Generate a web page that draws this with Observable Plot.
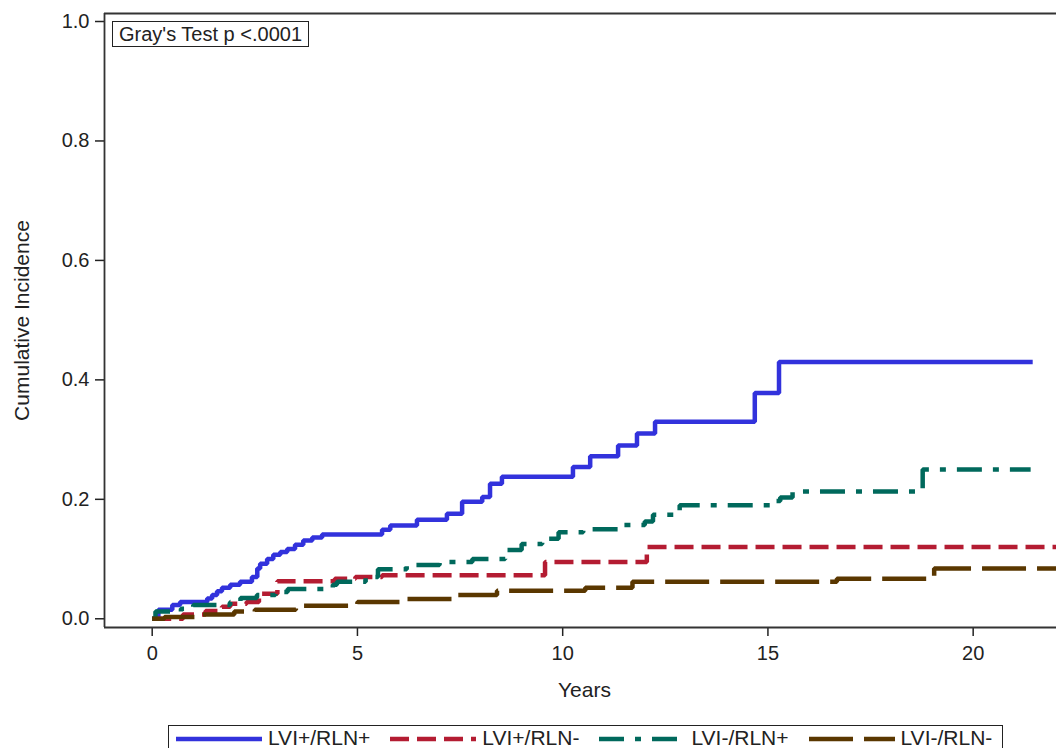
<!DOCTYPE html>
<html>
<head>
<meta charset="utf-8">
<script src="https://cdn.jsdelivr.net/npm/d3@7"></script>
<script src="https://cdn.jsdelivr.net/npm/@observablehq/plot@0.6"></script>
<style>
html, body { margin: 0; padding: 0; background: #fff; overflow: hidden; }
body { width: 1056px; height: 748px; position: relative; font-family: "Liberation Sans", Arial, sans-serif; color: #222; }
#chart { position: absolute; left: 0; top: 0; }
#inset { position: absolute; left: 112px; top: 21px; height: 24px; border: 1.5px solid #222; padding: 0 6px; font-size: 20px; line-height: 24px; background: #fff; white-space: nowrap; }
#legend { position: absolute; left: 168px; top: 725px; width: 835px; height: 40px; border: 1.6px solid #222; background: #fff; display: flex; align-items: flex-start; padding-left: 7px; box-sizing: border-box; }
.item { display: flex; align-items: center; height: 24px; margin-right: 20px; font-size: 21px; white-space: nowrap; }
.item svg { margin-right: 6px; }
</style>
</head>
<body>
<div id="chart"></div>
<div id="inset"></div>
<div id="legend"></div>
<script>
// ---- Data ----
const groups = ["LVI+/RLN+", "LVI+/RLN-", "LVI-/RLN+", "LVI-/RLN-"];
const colors = ["#3232dc", "#b41c32", "#00695c", "#5a3700"];
const dashes = ["none", "19,8", "25,11,6,11", "44,11"];

const lviPosRlnPosYears = [0,0.15,0.49,0.68,1.34,1.46,1.58,1.70,1.90,2.14,2.43,2.56,2.63,2.80,2.95,3.12,3.29,3.48,3.68,3.90,4.14,5.60,5.80,6.45,7.18,7.55,8.04,8.23,8.52,10.25,10.67,11.35,11.81,12.25,14.68,15.27,21.45];
const lviPosRlnPosInc   = [0,0.015,0.023,0.028,0.034,0.040,0.046,0.052,0.057,0.062,0.070,0.084,0.092,0.100,0.107,0.112,0.117,0.124,0.131,0.136,0.141,0.149,0.156,0.166,0.176,0.196,0.204,0.226,0.238,0.254,0.272,0.290,0.310,0.330,0.378,0.430,0.430];

const lviPosRlnNegYears = [0,0.75,1.3,1.7,1.9,2.3,2.6,3.05,4.45,4.95,5.6,9.57,12.05,23];
const lviPosRlnNegInc   = [0,0.007,0.013,0.020,0.025,0.028,0.042,0.063,0.067,0.070,0.073,0.095,0.120,0.120];

const lviNegRlnPosYears = [0,0.08,0.7,1.0,1.9,2.15,2.55,3.0,3.3,4.4,4.5,5.2,5.5,6.2,7.0,7.8,8.6,9.0,9.5,9.9,10.5,11.4,12.0,12.2,12.85,15.05,15.3,15.6,18.77,21.4];
const lviNegRlnPosInc   = [0,0.012,0.017,0.023,0.028,0.035,0.040,0.045,0.050,0.057,0.062,0.070,0.083,0.090,0.095,0.100,0.115,0.125,0.134,0.145,0.150,0.157,0.163,0.174,0.190,0.197,0.203,0.213,0.250,0.250];

const lviNegRlnNegYears = [0,0.3,1.2,2.0,2.5,3.5,5.0,6.2,7.3,8.4,10.55,11.7,16.68,19.05,23];
const lviNegRlnNegInc   = [0,0.003,0.007,0.012,0.015,0.022,0.028,0.033,0.040,0.047,0.052,0.062,0.067,0.084,0.084];

const yearTicks = [0, 5, 10, 15, 20];
const incTicks = [0, 0.2, 0.4, 0.6, 0.8, 1.0];
const xLabel = "Years";
const yLabel = "Cumulative Incidence";
const testText = "Gray's Test p <.0001";

// ---- Build table ----
const seriesYears = [lviPosRlnPosYears, lviPosRlnNegYears, lviNegRlnPosYears, lviNegRlnNegYears];
const seriesInc = [lviPosRlnPosInc, lviPosRlnNegInc, lviNegRlnPosInc, lviNegRlnNegInc];
const series = groups.map((g, i) => seriesYears[i].map((t, j) => ({group: g, t, v: seriesInc[i][j]})));

const xDom = [-1.162, 22.03];
const yDom = [-0.0146, 1.0134];
const frameStyle = {stroke: "#333", strokeWidth: 1.8};

const chart = Plot.plot({
  width: 1056,
  height: 715,
  marginLeft: 104,
  marginRight: 0,
  marginTop: 13,
  marginBottom: 88,
  style: {fontFamily: "'Liberation Sans', Arial, sans-serif", color: "#222", background: "#fff"},
  x: {domain: xDom},
  y: {domain: yDom},
  marks: [
    Plot.axisY({ticks: incTicks, tickFormat: d3.format(".1f"), tickSize: 9, tickPadding: 6, fontSize: 20, label: null, strokeWidth: 1.5}),
    Plot.axisX({ticks: yearTicks, tickSize: 9, tickPadding: 9, fontSize: 20, label: null, strokeWidth: 1.5}),
    ...series.map((d, i) => Plot.line(d, {
      x: "t", y: "v", curve: "step-after", clip: true,
      stroke: colors[i], strokeWidth: 4.5,
      strokeDasharray: dashes[i] === "none" ? undefined : dashes[i],
      strokeLinecap: "butt", strokeLinejoin: "miter"
    })),
    Plot.ruleY([yDom[1]], frameStyle),
    Plot.ruleY([yDom[0]], frameStyle),
    Plot.ruleX([xDom[0]], frameStyle),
    Plot.text([xLabel], {frameAnchor: "bottom", dy: 69, dx: 4, fontSize: 21, fill: "#222"}),
    Plot.text([yLabel], {frameAnchor: "left", textAnchor: "middle", rotate: -90, dx: -82, fontSize: 21, fill: "#222"})
  ]
});
document.getElementById("chart").appendChild(chart);

document.getElementById("inset").textContent = testText;

const legend = d3.select("#legend");
groups.forEach((g, i) => {
  const item = legend.append("div").attr("class", "item");
  const svg = item.append("svg").attr("width", 86).attr("height", 24);
  svg.append("line").attr("x1", 0).attr("x2", 86).attr("y1", 13).attr("y2", 13)
    .attr("stroke", colors[i]).attr("stroke-width", 4.5)
    .attr("stroke-dasharray", dashes[i] === "none" ? null : dashes[i]);
  item.append("span").text(g);
});
</script>
</body>
</html>
